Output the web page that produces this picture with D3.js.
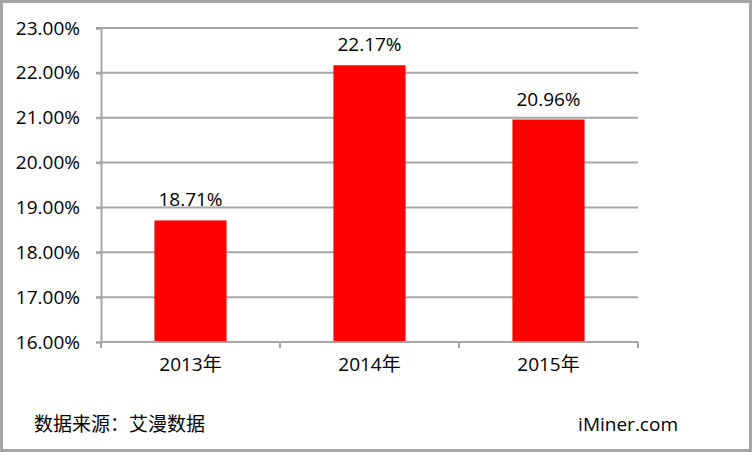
<!DOCTYPE html>
<html><head><meta charset="utf-8">
<script src="https://cdn.jsdelivr.net/npm/d3@7"></script>
<style>
html,body{margin:0;padding:0;background:#fff;}
svg{display:block;}
</style></head>
<body>
<script>
const categories = ["2013年", "2014年", "2015年"];
const values = [18.71, 22.17, 20.96];
const yTicks = [16, 17, 18, 19, 20, 21, 22, 23];
const sourceText = "数据来源：艾漫数据";
const brandText = "iMiner.com";

(function () {
const W = 752, H = 452;
const font = "'Open Sans', 'Noto Sans CJK SC', sans-serif";
const fs = 19;
const svg = d3.select("body").append("svg").attr("width", W).attr("height", H);

svg.append("rect").attr("x", 1.5).attr("y", 1.5).attr("width", W - 3).attr("height", H - 3)
  .attr("fill", "#fff").attr("stroke", "#a6a6a6").attr("stroke-width", 3);

const mLeft = 101, mRight = 638, mTop = 28, mBottom = 342;
const x = d3.scaleBand().domain(categories).range([mLeft, mRight]).paddingInner(0.597).paddingOuter(0.2985);
const y = d3.scaleLinear().domain([16, 23]).range([mBottom, mTop]);
const grid = "#a6a6a6";

// gridlines
svg.append("g").selectAll("line").data(yTicks.filter(d => d > 16)).join("line")
  .attr("x1", mLeft - 5).attr("x2", mRight).attr("y1", d => y(d)).attr("y2", d => y(d))
  .attr("stroke", grid).attr("stroke-width", 2);

// y axis
const yAxis = svg.append("g").attr("transform", `translate(${mLeft},0)`)
  .call(d3.axisLeft(y).tickValues(yTicks).tickFormat(d => d.toFixed(2) + "%").tickSize(5).tickPadding(16));
yAxis.select(".domain").attr("stroke", grid).attr("stroke-width", 2);
yAxis.selectAll(".tick line").attr("stroke", grid).attr("stroke-width", 2);
yAxis.selectAll("text").attr("font-family", font).attr("font-size", fs).attr("fill", "#000");

// bars
svg.append("g").selectAll("rect").data(values).join("rect")
  .attr("x", (d, i) => x(categories[i])).attr("width", x.bandwidth())
  .attr("y", d => y(d)).attr("height", d => mBottom - y(d))
  .attr("fill", "#ff0000");

// x axis
const xAxis = svg.append("g").attr("transform", `translate(0,${mBottom})`)
  .call(d3.axisBottom(x).tickSize(0).tickPadding(16));
xAxis.select(".domain").attr("stroke", grid).attr("stroke-width", 2).attr("d", `M${mLeft},0H${mRight}`);
xAxis.selectAll("text").attr("font-family", font).attr("font-size", fs).attr("fill", "#000");
const step = x.step();
svg.append("g").selectAll("line").data(d3.range(categories.length + 1)).join("line")
  .attr("x1", i => mLeft + i * step).attr("x2", i => mLeft + i * step)
  .attr("y1", mBottom).attr("y2", mBottom + 6)
  .attr("stroke", grid).attr("stroke-width", 2);

// value labels
svg.append("g").selectAll("text").data(values).join("text")
  .attr("x", (d, i) => x(categories[i]) + x.bandwidth() / 2)
  .attr("y", d => y(d) - 14)
  .attr("text-anchor", "middle").attr("font-family", font).attr("font-size", fs).attr("fill", "#000")
  .text(d => d.toFixed(2) + "%");

// footer
svg.append("text").attr("x", 34).attr("y", 431).attr("font-family", font).attr("font-size", fs)
  .attr("fill", "#000").text(sourceText);
svg.append("text").attr("x", 678).attr("y", 431).attr("text-anchor", "end").attr("font-family", font)
  .attr("font-size", fs).attr("fill", "#000").text(brandText);
})();
</script>
</body></html>
